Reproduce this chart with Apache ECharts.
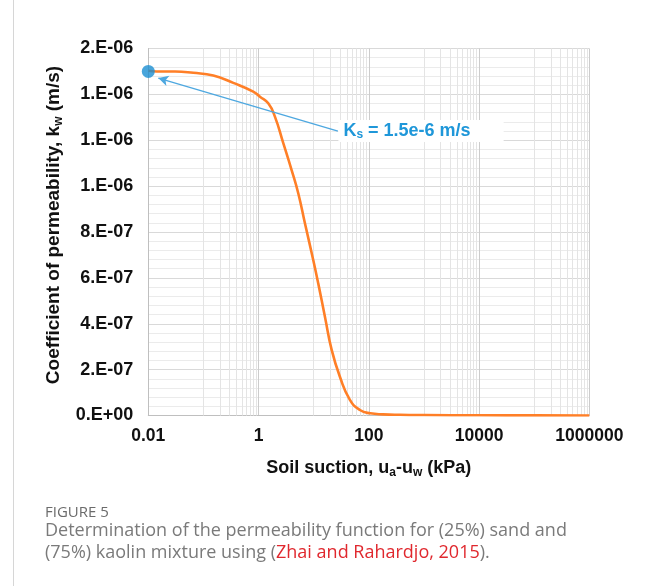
<!DOCTYPE html>
<html><head><meta charset="utf-8">
<script src="https://cdn.jsdelivr.net/npm/echarts@6/dist/echarts.min.js"></script>
<style>html,body{margin:0;padding:0;background:#fff}#c{width:654px;height:586px}</style>
</head><body><div id="c"></div>
<script>
// Soil suction (kPa)
const suction = [0.01, 0.0142, 0.0305, 0.0655, 0.151, 0.348, 0.80, 1.06, 1.50, 1.98, 2.81, 3.98, 5.25, 6.94, 9.82, 12.1, 16.0, 21.2, 29.9, 45.4, 68.9, 106, 182, 371, 1000, 10000, 100000, 1000000];
// Coefficient of permeability (m/s)
const permeability = [1.503e-6, 1.500e-6, 1.500e-6, 1.494e-6, 1.482e-6, 1.450e-6, 1.412e-6, 1.390e-6, 1.361e-6, 1.303e-6, 1.187e-6, 1.070e-6, 0.969e-6, 0.838e-6, 0.678e-6, 0.576e-6, 0.431e-6, 0.286e-6, 0.169e-6, 0.068e-6, 0.024e-6, 0.0096e-6, 0.005e-6, 0.003e-6, 0.002e-6, 0.001e-6, 0.0005e-6, 0.0002e-6];
// Saturated permeability point
const ksPoint = [0.01, 1.5e-6];
const ksLabelAt = [27.5, 1.24e-6];
const ksArrowTip = [0.0152, 1.471e-6];
// Tick labels
const xTickLabels = {'-2': '0.01', '0': '1', '2': '100', '4': '10000', '6': '1000000'};
const yTickLabels = ['0.E+00', '2.E-07', '4.E-07', '6.E-07', '8.E-07', '1.E-06', '1.E-06', '1.E-06', '2.E-06'];
// Minor vertical grid lines
const xMinorGrid = [0.1, 0.2, 0.3, 0.4, 0.5, 0.6, 0.7, 0.8, 0.9,
  10, 20, 30, 40, 50, 60, 70, 80, 90,
  1000, 2000, 3000, 4000, 5000, 6000, 7000, 8000, 9000,
  100000, 200000, 300000, 400000, 500000, 600000, 700000, 800000, 900000];

const chart = echarts.init(document.getElementById('c'), null, {renderer: 'canvas'});
const AX = 'Liberation Sans, Arial, Helvetica, sans-serif';
const CAP = 'Open Sans, Noto Sans, sans-serif';

chart.setOption({
  animation: false,
  backgroundColor: '#fff',
  grid: {left: 148.3, right: 64.7, top: 48.5, bottom: 170.5, containLabel: false},
  xAxis: {
    type: 'log', logBase: 100, min: 0.01, max: 1000000, splitNumber: 4,
    axisLine: {show: true, lineStyle: {color: '#bfbfbf', width: 1}},
    axisTick: {show: false},
    splitLine: {show: true, lineStyle: {color: '#cccccc', width: 1}},
    minorSplitLine: {show: false},
    axisLabel: {
      margin: 12, fontFamily: AX, fontWeight: 'bold', fontSize: 17.5, color: '#111',
      formatter: v => xTickLabels[String(Math.round(Math.log10(v)))] || ''
    },
    name: '{n|Soil suction, u}{s|a}{n|-u}{s|w}{n| (kPa)}',
    nameLocation: 'middle', nameGap: 43,
    nameTextStyle: {
      rich: {
        n: {fontFamily: AX, fontWeight: 'bold', fontSize: 18, color: '#111', lineHeight: 20, verticalAlign: 'middle'},
        s: {fontFamily: AX, fontWeight: 'bold', fontSize: 12, color: '#111', lineHeight: 12, verticalAlign: 'bottom'}
      }
    }
  },
  yAxis: {
    type: 'value', min: 0, max: 1.6e-6, interval: 2e-7,
    axisLine: {show: true, lineStyle: {color: '#bfbfbf', width: 1}},
    axisTick: {show: false},
    splitLine: {show: true, lineStyle: {color: '#d9d9d9', width: 1}},
    minorTick: {show: false, splitNumber: 5},
    minorSplitLine: {show: true, lineStyle: {color: '#ebebeb', width: 1}},
    axisLabel: {
      margin: 15, fontFamily: AX, fontWeight: 'bold', fontSize: 18, color: '#111',
      formatter: v => yTickLabels[Math.round(v / 2e-7)]
    },
    name: '{n|Coefficient of permeability, k}{s|w}{n| (m/s)}',
    nameLocation: 'middle', nameGap: 80, nameRotate: 90,
    nameTextStyle: {
      padding: [0, 0, 0, 14],
      rich: {
        n: {fontFamily: AX, fontWeight: 'bold', fontSize: 19, color: '#111', lineHeight: 22, verticalAlign: 'middle'},
        s: {fontFamily: AX, fontWeight: 'bold', fontSize: 12, color: '#111', lineHeight: 12, verticalAlign: 'bottom'}
      }
    }
  },
  series: [
    {
      type: 'line', data: [], z: 1, silent: true,
      markLine: {
        z: 1, silent: true, symbol: 'none', label: {show: false}, animation: false,
        lineStyle: {color: '#e4e4e4', width: 1, type: 'solid'},
        data: xMinorGrid.map(v => ({xAxis: v}))
      }
    },
    {
      type: 'line', z: 4,
      data: suction.map((s, i) => [s, permeability[i]]),
      smooth: 0.5, showSymbol: false, symbol: 'none',
      lineStyle: {color: '#ff7f27', width: 2.6},
      markLine: {
        z: 6, silent: true, symbol: ['none', 'arrow'], symbolSize: [8, 10], animation: false,
        label: {show: false},
        lineStyle: {color: '#4ea8e0', width: 1.3, type: 'solid'},
        data: [[{coord: ksLabelAt}, {coord: ksArrowTip}]]
      }
    },
    {
      type: 'scatter', z: 7,
      data: [ksPoint],
      symbol: 'circle', symbolSize: 13,
      itemStyle: {color: '#1b8fd2'},
      markPoint: {
        z: 8, silent: true, symbol: 'rect', symbolSize: 1, animation: false,
        itemStyle: {color: 'rgba(0,0,0,0)'},
        data: [{coord: ksLabelAt}],
        label: {
          show: true, position: 'right', distance: 0,
          backgroundColor: '#fff', padding: [1, 33, 1, 5],
          formatter: '{k|K}{s|s}{k| = 1.5e-6 m/s}',
          rich: {
            k: {fontFamily: AX, fontWeight: 'bold', fontSize: 18, color: '#1f97d9', lineHeight: 20, verticalAlign: 'middle'},
            s: {fontFamily: AX, fontWeight: 'bold', fontSize: 12, color: '#1f97d9', lineHeight: 12, verticalAlign: 'bottom'}
          }
        }
      }
    }
  ],
  graphic: [
    {type: 'line', silent: true, shape: {x1: 13.5, y1: 0, x2: 13.5, y2: 586}, style: {stroke: '#d6d6d6', lineWidth: 1}},
    {type: 'text', silent: true, left: 45, top: 505, style: {text: 'FIGURE 5', font: '15px ' + CAP, fill: '#6b6b6b'}},
    {type: 'text', silent: true, left: 45, top: 522, style: {text: 'Determination of the permeability function for (25%) sand and', font: '18px ' + CAP, fill: '#7a7a7a'}},
    {type: 'text', silent: true, left: 45, top: 544, style: {
      text: '{g|(75%) kaolin mixture using (}{r|Zhai and Rahardjo, 2015}{g|).}',
      rich: {
        g: {font: '18px ' + CAP, fill: '#7a7a7a'},
        r: {font: '18px ' + CAP, fill: '#e0282e'}
      }
    }}
  ]
});
</script></body></html>
